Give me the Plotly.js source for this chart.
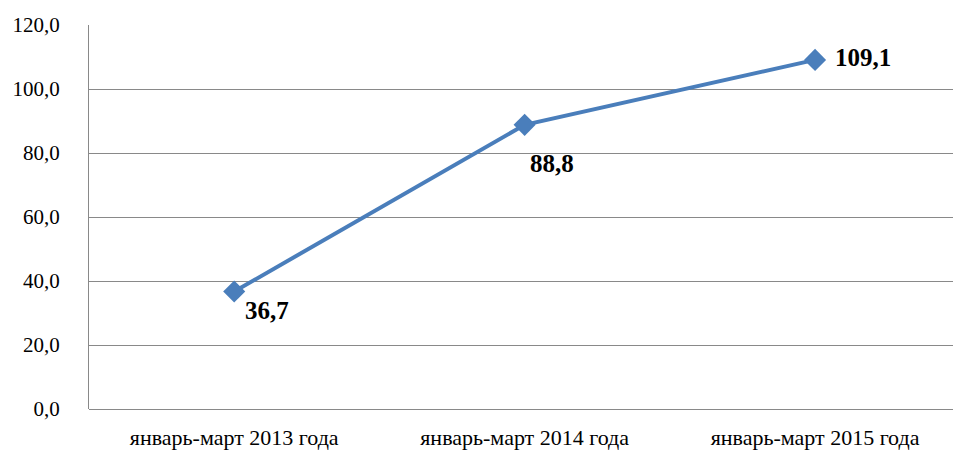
<!DOCTYPE html>
<html>
<head>
<meta charset="utf-8">
<script src="https://cdn.plot.ly/plotly-3.0.1.min.js"></script>
<style>html,body{margin:0;padding:0;background:#fff;}#chart{width:953px;height:453px;}</style>
</head>
<body>
<div id="chart"></div>
<script>
const categories = ["январь-март 2013 года", "январь-март 2014 года", "январь-март 2015 года"];
const values = [36.7, 88.8, 109.1];
const valueLabels = ["36,7", "88,8", "109,1"];
const yTickValues = [0, 20, 40, 60, 80, 100, 120];
const yTickLabels = ["0,0", "20,0", "40,0", "60,0", "80,0", "100,0", "120,0"];

const labelOffsets = [[33, -19], [27, -39], [48, 2]];
const FONT = "Liberation Serif, Times New Roman, serif";

const trace = {
  x: categories,
  y: values,
  type: "scatter",
  mode: "lines+markers",
  line: {color: "#4A7EBB", width: 4},
  marker: {symbol: "diamond", size: 17, color: "#4A7EBB"},
  hoverinfo: "none"
};

const annotations = categories.map((c, i) => ({
  x: c, y: values[i], text: "<b>" + valueLabels[i] + "</b>", showarrow: false,
  xshift: labelOffsets[i][0], yshift: labelOffsets[i][1],
  font: {family: FONT, size: 25, color: "#000"}
}));

const layout = {
  width: 953, height: 453,
  margin: {l: 89, r: 0, t: 25, b: 44},
  paper_bgcolor: "#fff", plot_bgcolor: "#fff",
  showlegend: false,
  font: {family: FONT, color: "#000"},
  xaxis: {
    type: "category", range: [-0.5, 2.475],
    showgrid: false, showline: false, zeroline: false,
    ticks: "", tickfont: {family: FONT, size: 22}, ticklabelstandoff: 13
  },
  yaxis: {
    range: [0, 120], tickvals: yTickValues, ticktext: yTickLabels,
    showgrid: true, gridcolor: "#898989", gridwidth: 1,
    showline: true, linecolor: "#898989", linewidth: 1,
    zeroline: true, zerolinecolor: "#898989", zerolinewidth: 1,
    ticks: "", tickfont: {family: FONT, size: 21}, ticklabelstandoff: 24
  },
  annotations: annotations
};

Plotly.newPlot("chart", [trace], layout, {displayModeBar: false, staticPlot: true});
</script>
</body>
</html>
